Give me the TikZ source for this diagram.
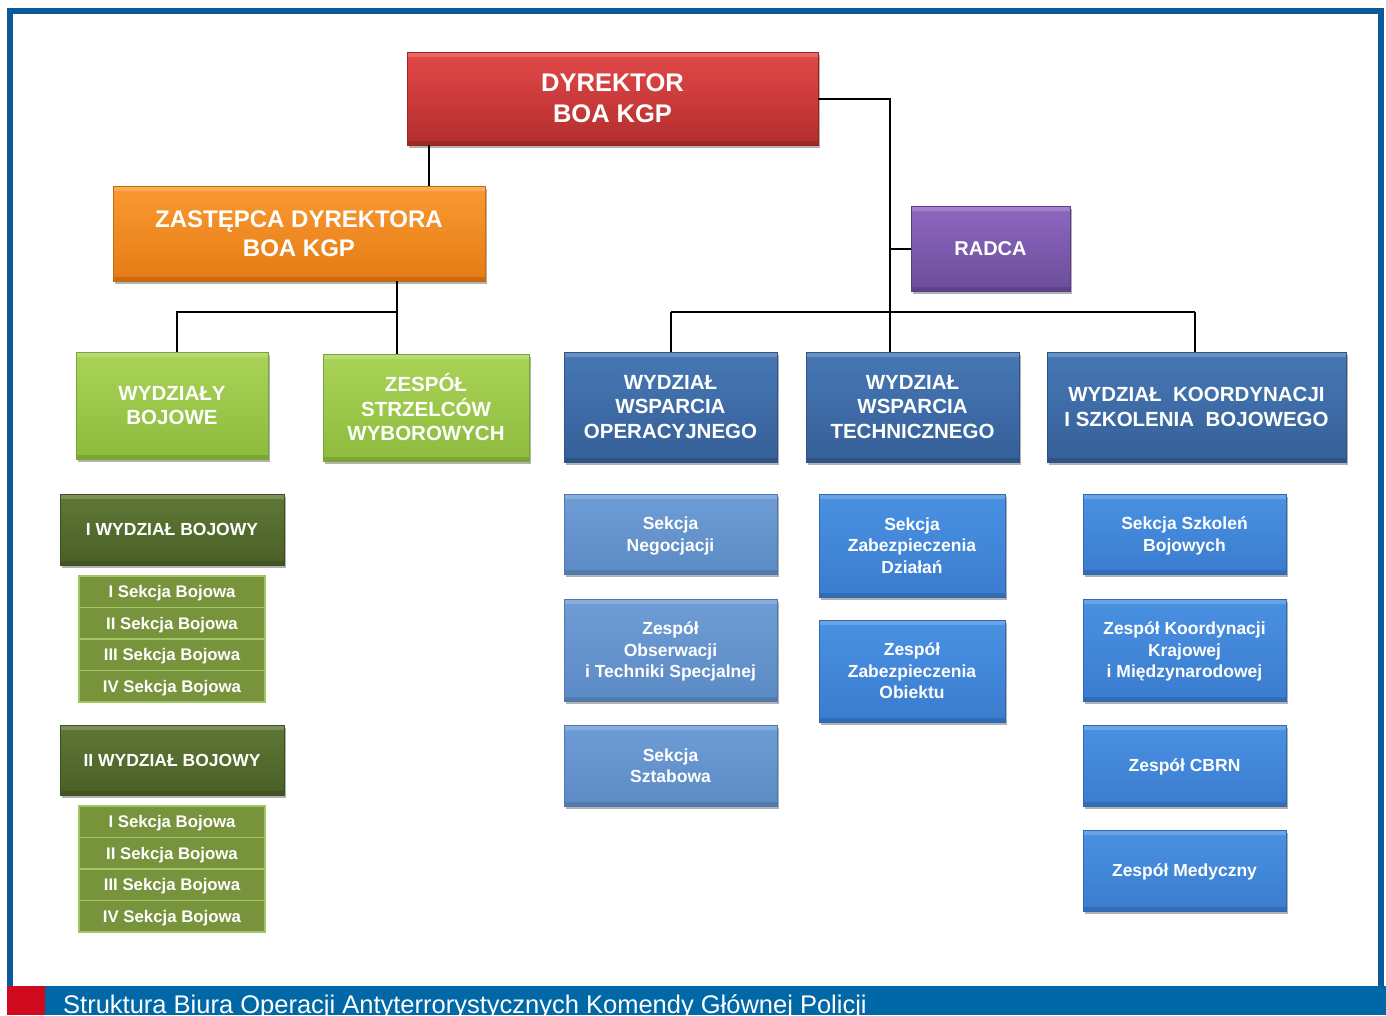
\documentclass[tikz,border=0pt]{standalone}
\usepackage{fontspec}
\setmainfont{Liberation Sans}
\usetikzlibrary{shadows}
\definecolor{dirT}{HTML}{E34848}\definecolor{dirB}{HTML}{B32E2E}\definecolor{dirD}{HTML}{9A2525}
\definecolor{zastT}{HTML}{FA9A32}\definecolor{zastB}{HTML}{E57B14}\definecolor{zastD}{HTML}{C86A10}
\definecolor{radT}{HTML}{8E68C0}\definecolor{radB}{HTML}{6B4C9A}\definecolor{radD}{HTML}{5A3E85}
\definecolor{grT}{HTML}{A9D356}\definecolor{grB}{HTML}{8DBB3E}\definecolor{grD}{HTML}{7DA535}
\definecolor{navT}{HTML}{4678B5}\definecolor{navB}{HTML}{365F98}\definecolor{navD}{HTML}{2E5384}
\definecolor{olT}{HTML}{5F7836}\definecolor{olB}{HTML}{4A5F27}\definecolor{olD}{HTML}{3E5020}
\definecolor{secF}{HTML}{77933C}\definecolor{secD}{HTML}{A2C564}
\definecolor{stT}{HTML}{6E9DD6}\definecolor{stB}{HTML}{5C8AC4}\definecolor{stD}{HTML}{4E78AE}
\definecolor{brT}{HTML}{4A91E2}\definecolor{brB}{HTML}{3A7CCF}\definecolor{brD}{HTML}{3068B2}
\definecolor{frameC}{HTML}{0B5A9A}\definecolor{barC}{HTML}{0068A6}\definecolor{barRed}{HTML}{CF0A1E}
\newcommand{\obox}[7]{\node[#2, minimum width={#5pt-#3pt}, minimum height={#6pt-#4pt}] (#1) at ({(#3+#5)/2},{(#4+#6)/2}) {#7};}
\begin{document}
\begin{tikzpicture}[x=1pt,y=-1pt,
  boxbase/.style={rectangle, inner sep=0pt, align=center, text=white, line width=0.8pt,
    drop shadow={shadow xshift=1.5pt, shadow yshift=-2.5pt, opacity=0.3, fill=black},
    path picture={
      \fill[white,opacity=0.18] (path picture bounding box.north west) rectangle ([yshift=-5pt]path picture bounding box.north east);
      \fill[black,opacity=0.12] (path picture bounding box.south west) rectangle ([yshift=4pt]path picture bounding box.south east);
    }},
  sDir/.style={boxbase, top color=dirT, bottom color=dirB, draw=dirD, font=\fontsize{25.5}{31}\selectfont\bfseries},
  sZast/.style={boxbase, top color=zastT, bottom color=zastB, draw=zastD, font=\fontsize{24}{29}\selectfont\bfseries},
  sRadca/.style={boxbase, top color=radT, bottom color=radB, draw=radD, font=\fontsize{20}{24}\selectfont\bfseries},
  sGreen/.style={boxbase, top color=grT, bottom color=grB, draw=grD, font=\fontsize{20.5}{24.5}\selectfont\bfseries},
  sNavy/.style={boxbase, top color=navT, bottom color=navB, draw=navD, font=\fontsize{20.5}{24.5}\selectfont\bfseries},
  sOlive/.style={boxbase, top color=olT, bottom color=olB, draw=olD, font=\fontsize{17.5}{21}\selectfont\bfseries},
  sSec/.style={rectangle, inner sep=0pt, text=white, fill=secF, draw=secD, line width=1.5pt, text depth=-0.5pt, font=\fontsize{16.8}{20}\selectfont\bfseries},
  sSteel/.style={boxbase, top color=stT, bottom color=stB, draw=stD, text depth=-1pt, font=\fontsize{17.5}{21.5}\selectfont\bfseries},
  sBright/.style={boxbase, top color=brT, bottom color=brB, draw=brD, text depth=-1pt, font=\fontsize{17.5}{21.5}\selectfont\bfseries},
  conn/.style={draw=black, line width=2pt}
]
\useasboundingbox (0,0) rectangle (1386,1015);
% frame and bottom bar
\draw[frameC, line width=6pt] (10,989) -- (10,11) -- (1380.5,11) -- (1380.5,989);
\fill[barC] (7,986) rectangle (1386,1015);
\fill[barRed] (7,986) rectangle (45,1015);
\node[anchor=base west, inner sep=0pt, text=white, font=\fontsize{25.5}{30}\selectfont] (title) at (63,1013.5) {Struktura Biura Operacji Antyterrorystycznych Komendy Głównej Policji};

% junction coordinates
\coordinate (jA) at (429,0);
\coordinate (jB) at (890,0);
\coordinate (jC) at (397,312);
\coordinate (jD) at (177,312);
\coordinate (jE) at (671,312);
\coordinate (jF) at (1195,312);

% top level
\obox{dyr}{sDir}{407}{52}{818}{145}{DYREKTOR\\BOA KGP}
\obox{zast}{sZast}{113}{186}{485}{281}{ZASTĘPCA DYREKTORA\\BOA KGP}
\obox{radca}{sRadca}{911}{206}{1070}{291}{RADCA}

% second row
\obox{boj}{sGreen}{76}{352}{268}{459}{WYDZIAŁY\\BOJOWE}
\obox{strz}{sGreen}{323}{354}{529}{461}{ZESPÓŁ\\STRZELCÓW\\WYBOROWYCH}
\obox{wop}{sNavy}{564}{352}{777}{462}{WYDZIAŁ\\WSPARCIA\\OPERACYJNEGO}
\obox{wtech}{sNavy}{806}{352}{1019}{462}{WYDZIAŁ\\WSPARCIA\\TECHNICZNEGO}
\obox{wkoord}{sNavy}{1047}{352}{1346}{462}{WYDZIAŁ\ \ KOORDYNACJI\\I SZKOLENIA\ \ BOJOWEGO}

% left column
\obox{wb1}{sOlive}{60}{494}{284}{565}{I WYDZIAŁ BOJOWY}
\obox{s11}{sSec}{79}{576}{265}{607.5}{I Sekcja Bojowa}
\obox{s12}{sSec}{79}{607.5}{265}{639}{II Sekcja Bojowa}
\obox{s13}{sSec}{79}{639}{265}{670.5}{III Sekcja Bojowa}
\obox{s14}{sSec}{79}{670.5}{265}{702}{IV Sekcja Bojowa}
\obox{wb2}{sOlive}{60}{725}{284}{795}{II WYDZIAŁ BOJOWY}
\obox{s21}{sSec}{79}{806}{265}{837.5}{I Sekcja Bojowa}
\obox{s22}{sSec}{79}{837.5}{265}{869}{II Sekcja Bojowa}
\obox{s23}{sSec}{79}{869}{265}{900.5}{III Sekcja Bojowa}
\obox{s24}{sSec}{79}{900.5}{265}{932}{IV Sekcja Bojowa}

% operational column
\obox{neg}{sSteel}{564}{494}{777}{574}{Sekcja\\Negocjacji}
\obox{obs}{sSteel}{564}{599}{777}{701}{Zespół\\Obserwacji\\i Techniki Specjalnej}
\obox{szt}{sSteel}{564}{725}{777}{806}{Sekcja\\Sztabowa}

% technical column
\obox{zabd}{sBright}{819}{494}{1005}{597}{Sekcja\\Zabezpieczenia\\Działań}
\obox{zabo}{sBright}{819}{620}{1005}{722}{Zespół\\Zabezpieczenia\\Obiektu}

% coordination column
\obox{szk}{sBright}{1083}{494}{1286}{574}{Sekcja Szkoleń\\Bojowych}
\obox{kraj}{sBright}{1083}{599}{1286}{701}{Zespół Koordynacji\\Krajowej\\i Międzynarodowej}
\obox{cbrn}{sBright}{1083}{725}{1286}{806}{Zespół CBRN}
\obox{med}{sBright}{1083}{830}{1286}{911}{Zespół Medyczny}

% connectors
\draw[conn] (dyr.south -| jA) -- (zast.north -| jA);
\draw[conn] (dyr.east) -| (wtech.north -| jB);
\draw[conn] (radca.west) -- (radca.west -| jB);
\draw[conn] (zast.south -| jC) -- (strz.north -| jC);
\draw[conn] (jC) -- (jD) -- (boj.north -| jD);
\draw[conn] (jE) -- (jF);
\draw[conn] (jE) -- (wop.north -| jE);
\draw[conn] (jF) -- (wkoord.north -| jF);
\end{tikzpicture}
\end{document}
